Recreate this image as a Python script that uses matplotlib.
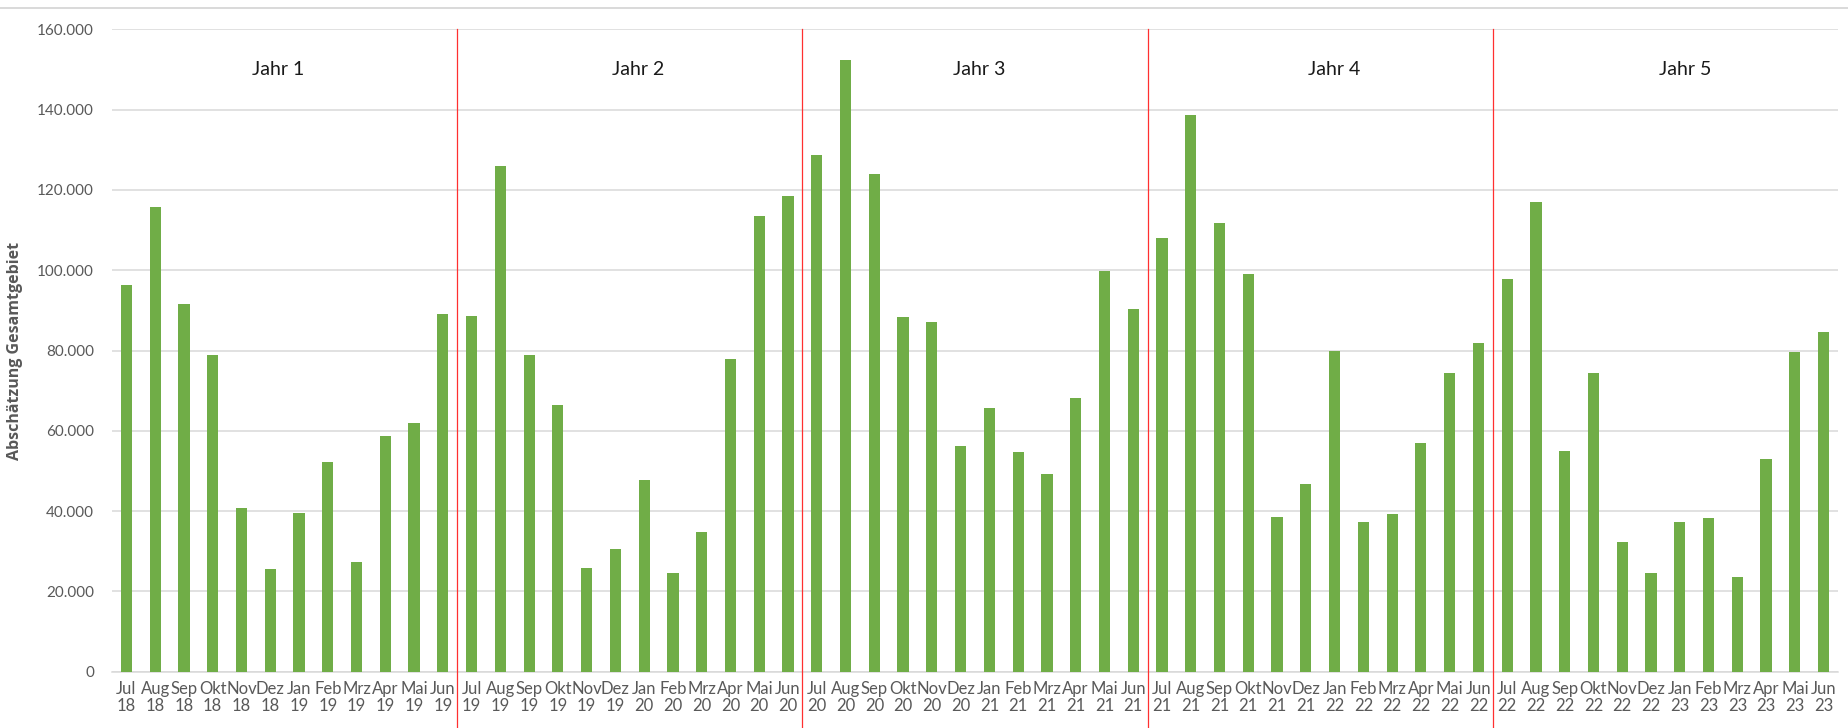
import matplotlib
matplotlib.use("Agg")
import matplotlib.pyplot as plt
from matplotlib.lines import Line2D
from matplotlib.ticker import FuncFormatter, MultipleLocator

plt.rcParams['font.family'] = ['Lato', 'DejaVu Sans']

months = ["Jul", "Aug", "Sep", "Okt", "Nov", "Dez", "Jan", "Feb", "Mrz", "Apr", "Mai", "Jun"]
start_years = [18, 19, 20, 21, 22]
year_labels = ["Jahr 1", "Jahr 2", "Jahr 3", "Jahr 4", "Jahr 5"]

values_y1 = [96200, 115700, 91500, 79000, 40800, 25500, 39600, 52300, 27400, 58700, 62000, 89100]
values_y2 = [88500, 125900, 79000, 66500, 25800, 30600, 47800, 24600, 34900, 77800, 113500, 118500]
values_y3 = [128700, 152400, 124000, 88300, 87000, 56200, 65800, 54700, 49300, 68200, 99700, 90300]
values_y4 = [108000, 138700, 111700, 99000, 38600, 46800, 80000, 37400, 39400, 56900, 74500, 81800]
values_y5 = [97800, 117000, 55000, 74300, 32300, 24600, 37200, 38400, 23600, 52900, 79700, 84600]

ylabel = "Abschätzung Gesamtgebiet"

values = values_y1 + values_y2 + values_y3 + values_y4 + values_y5
labels = []
for y in start_years:
    for i, m in enumerate(months):
        yy = y if i < 6 else y + 1
        labels.append(f"{m}\n{yy}")

fig = plt.figure(figsize=(18.48, 7.28), dpi=100)
ax = fig.add_axes([112 / 1848, 1 - 671.7 / 728, (1838 - 112) / 1848, (671.7 - 29.3) / 728])

x = list(range(len(values)))
ax.bar(x, values, width=0.39, color="#70AD47", zorder=3)

ax.set_xlim(-0.5, len(values) - 0.5)
ax.set_ylim(0, 160000)
ax.yaxis.set_major_locator(MultipleLocator(20000))
ax.yaxis.set_major_formatter(FuncFormatter(lambda v, p: f"{int(v):,}".replace(",", ".")))
ax.grid(axis="y", color="#d9d9d9", linewidth=1.1, zorder=0)
ax.set_axisbelow(True)

ax.set_xticks(x)
ax.set_xticklabels(labels, linespacing=1.05)
ax.tick_params(axis="both", length=0, labelcolor="#595959")
ax.tick_params(axis="x", pad=7, labelsize=12)
ax.tick_params(axis="y", pad=13, labelsize=11)

for s in ["top", "right", "left"]:
    ax.spines[s].set_visible(False)
ax.spines["bottom"].set_color("#d9d9d9")
ax.spines["bottom"].set_linewidth(1.1)

ax.set_ylabel(ylabel, fontsize=11.5, fontweight="bold", color="#595959", labelpad=10,
              family=["Open Sans", "DejaVu Sans"])

# year separators
for k in range(1, len(start_years)):
    ax.axvline(12 * k - 0.5, ymin=-0.09, ymax=1.0, color="#ff3030", linewidth=0.9,
               clip_on=False, zorder=4)

# year labels
year_label_x = [5.27, 17.78, 29.66, 41.97, 54.18]
for lbl, xp in zip(year_labels, year_label_x):
    ax.text(xp, 150000, lbl, ha="center", va="center", fontsize=14, color="#1a1a1a")

# top chart border line
fig.add_artist(Line2D([0, 1], [1 - 7.5 / 728, 1 - 7.5 / 728], color="#d9d9d9", linewidth=1.4,
                      transform=fig.transFigure))

fig.savefig("out.png", dpi=100, facecolor="white")
